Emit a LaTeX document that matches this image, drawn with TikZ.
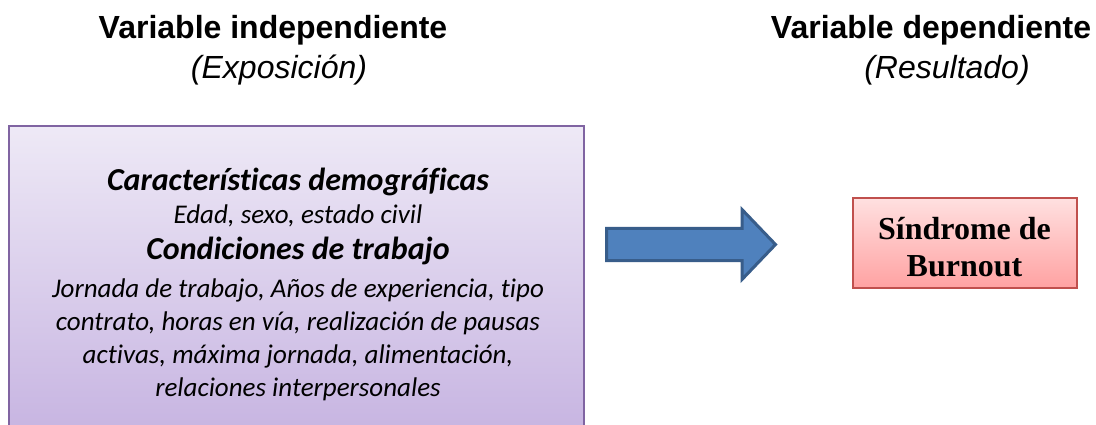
\documentclass[tikz,border=0pt]{standalone}
\usepackage{fontspec}
\newfontfamily\headfont{Liberation Sans}
\newfontfamily\bodyfont[Ligatures=NoCommon]{Carlito}
\newfontfamily\boxfont{Liberation Serif}
\definecolor{purpleborder}{HTML}{8064A2}
\definecolor{purpletop}{HTML}{EEE9F6}
\definecolor{purplebot}{HTML}{C6B3E1}
\definecolor{arrowfill}{HTML}{4F81BD}
\definecolor{arrowline}{HTML}{385D8A}
\definecolor{redline}{HTML}{C0504D}
\definecolor{redtop}{HTML}{FFE0E0}
\definecolor{redbot}{HTML}{FFA2A2}
\begin{document}
\begin{tikzpicture}[x=1pt,y=-1pt,
  headtxt/.style={anchor=base, inner sep=0pt, font=\headfont\bfseries\fontsize{32}{38}\selectfont},
  subtxt/.style={anchor=base, inner sep=0pt, font=\headfont\itshape\fontsize{32}{38}\selectfont},
  titletxt/.style={anchor=base, inner sep=0pt, font=\bodyfont\bfseries\itshape\fontsize{32}{38}\selectfont},
  itemtxt/.style={anchor=base, inner sep=0pt, font=\bodyfont\itshape\fontsize{27}{32}\selectfont},
  factorbox/.style={draw=purpleborder, line width=2pt, top color=purpletop, bottom color=purplebot,
    rectangle, minimum width=575pt, minimum height=314pt, inner sep=0pt},
  resultbox/.style={draw=redline, line width=2pt, top color=redtop, bottom color=redbot,
    rectangle, minimum width=224pt, minimum height=89pt, inner sep=0pt},
  resulttxt/.style={inner sep=0pt, align=center, font=\boxfont\bfseries\fontsize{32}{37}\selectfont},
  blockarrow/.style={draw=arrowline, fill=arrowfill, line width=3pt, line join=miter}]
\useasboundingbox (0,0) rectangle (1096,425);
\fill[white] (0,0) rectangle (1096,425);

% headings
\node[headtxt] (hindep) at (273,39) {Variable independiente};
\node[subtxt] (sindep) at (279,79) {(Exposición)};
\node[headtxt] (hdep) at (931,39) {Variable dependiente};
\node[subtxt] (sdep) at (947,79) {(Resultado)};

% factor box
\node[factorbox] (factors) at (296.5,283) {};
\node[titletxt] (t1) at (298,191) {Características demográficas};
\node[itemtxt] (l1) at (298,224) {Edad, sexo, estado civil};
\node[titletxt] (t2) at (298,259) {Condiciones de trabajo};
\node[itemtxt] (l2) at (298,297) {Jornada de trabajo, Años de experiencia, tipo};
\node[itemtxt] (l3) at (298,330) {contrato, horas en vía, realización de pausas};
\node[itemtxt] (l4) at (298,363) {activas, máxima jornada, alimentación,};
\node[itemtxt] (l5) at (298,396) {relaciones interpersonales};

% block arrow
\draw[blockarrow] (606.5,228.5) -- (742,228.5) -- (742,209.5) -- (775.5,244.5)
  -- (742,279.5) -- (742,260.5) -- (606.5,260.5) -- cycle;

% result box
\node[resultbox] (burnout) at (964.5,243) {};
\node[resulttxt] (burnouttxt) at (964.5,247) {Síndrome de\\Burnout};
\end{tikzpicture}
\end{document}
